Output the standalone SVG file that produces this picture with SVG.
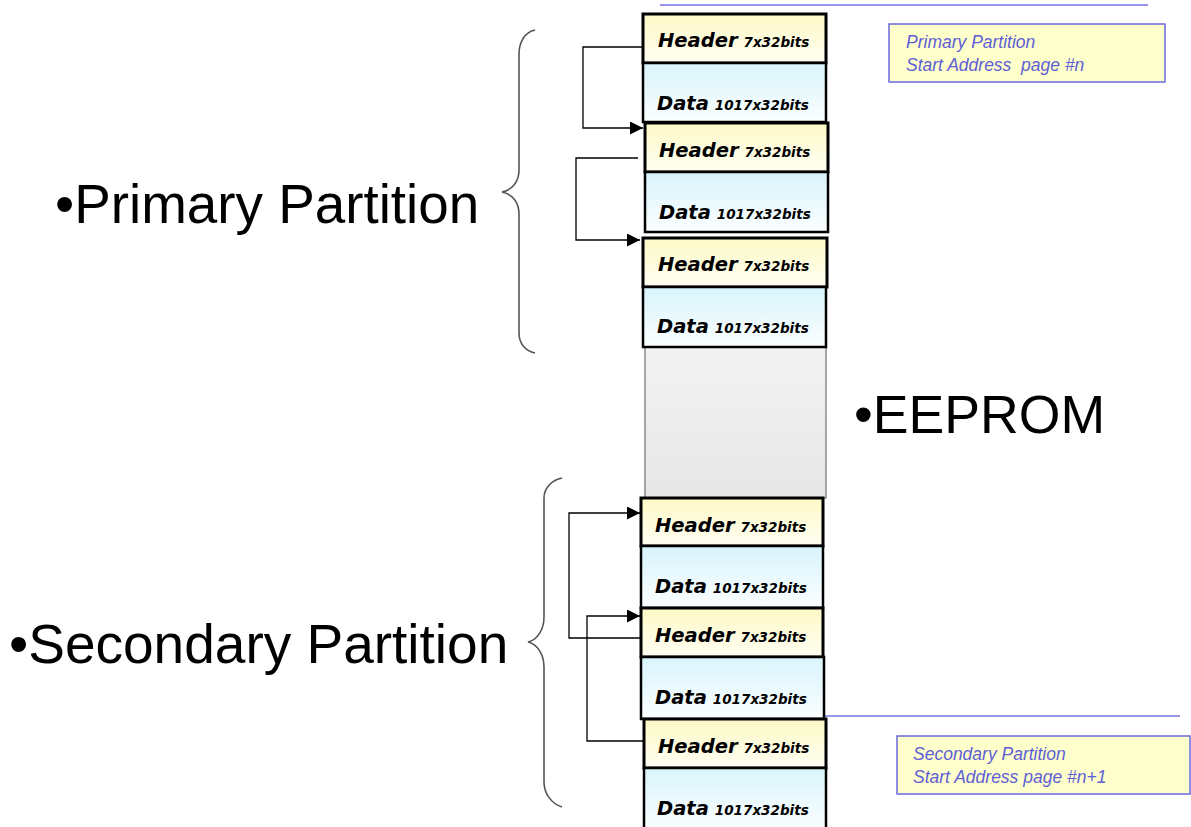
<svg xmlns="http://www.w3.org/2000/svg" width="1191" height="827" viewBox="0 0 1191 827">
  <defs>
    <linearGradient id="hdrFill" x1="0" y1="0" x2="0" y2="1">
      <stop offset="0" stop-color="#fdf9c6"/>
      <stop offset="1" stop-color="#fffef2"/>
    </linearGradient>
    <linearGradient id="dataFill" x1="0" y1="0" x2="0" y2="1">
      <stop offset="0" stop-color="#d8f4fb"/>
      <stop offset="1" stop-color="#fbfeff"/>
    </linearGradient>
    <linearGradient id="freeFill" x1="0" y1="0" x2="0" y2="1">
      <stop offset="0" stop-color="#f2f2f2"/>
      <stop offset="1" stop-color="#e7e7e7"/>
    </linearGradient>
    <marker id="arrow" viewBox="0 0 12 12" refX="12" refY="6" markerWidth="13" markerHeight="13" markerUnits="userSpaceOnUse" orient="auto">
      <path d="M0,0 L12,6 L0,12 Z" fill="#000"/>
    </marker>
  </defs>
  <style>
    .hdr { fill: url(#hdrFill); stroke: #000; stroke-width: 3; }
    .data { fill: url(#dataFill); stroke: #000; stroke-width: 2.5; }
    .free { fill: url(#freeFill); stroke: #8a8a8a; stroke-width: 1.5; }
    .lbl { font-family: "DejaVu Sans", Verdana, sans-serif; font-weight: bold; font-style: italic; fill: #000; }
    .big { font-size: 19.5px; }
    .small { font-size: 13.5px; }
    .title { font-family: "Liberation Sans", Arial, sans-serif; fill: #000; }
    .brace { fill: none; stroke: #555; stroke-width: 1.6; }
    .link { fill: none; stroke: #000; stroke-width: 1.3; }
    .note { fill: #ffffcc; stroke: #6a6ae0; stroke-width: 1.5; }
    .notetxt { font-family: "Liberation Sans", Arial, sans-serif; font-style: italic; font-size: 17.5px; fill: #5e5ed6; }
    .rule { stroke: #7474e4; stroke-width: 1.5; }
  </style>

  <!-- address rules -->
  <line class="rule" x1="660" y1="5" x2="1148" y2="5"/>
  <line class="rule" x1="825" y1="716" x2="1180" y2="716"/>

  <!-- free EEPROM area between partitions -->
  <g id="free-space">
    <rect class="free" x="645" y="347" width="181" height="151"/>
  </g>

  <!-- primary partition pages -->
  <g id="p1-header">
    <rect class="hdr" x="643" y="14" width="183" height="49"/>
    <text class="lbl" x="658" y="47"><tspan class="big">Header</tspan><tspan class="small" dx="6">7x32bits</tspan></text>
  </g>
  <g id="p1-data">
    <rect class="data" x="643" y="63" width="183" height="59"/>
    <text class="lbl" x="657" y="110"><tspan class="big">Data</tspan><tspan class="small" dx="6">1017x32bits</tspan></text>
  </g>
  <g id="p2-header">
    <rect class="hdr" x="645" y="123" width="183" height="49"/>
    <text class="lbl" x="659" y="157"><tspan class="big">Header</tspan><tspan class="small" dx="6">7x32bits</tspan></text>
  </g>
  <g id="p2-data">
    <rect class="data" x="645" y="172" width="183" height="60"/>
    <text class="lbl" x="659" y="219"><tspan class="big">Data</tspan><tspan class="small" dx="6">1017x32bits</tspan></text>
  </g>
  <g id="p3-header">
    <rect class="hdr" x="643" y="238" width="184" height="49"/>
    <text class="lbl" x="658" y="271"><tspan class="big">Header</tspan><tspan class="small" dx="6">7x32bits</tspan></text>
  </g>
  <g id="p3-data">
    <rect class="data" x="643" y="287" width="183" height="60"/>
    <text class="lbl" x="657" y="333"><tspan class="big">Data</tspan><tspan class="small" dx="6">1017x32bits</tspan></text>
  </g>

  <!-- secondary partition pages -->
  <g id="s1-header">
    <rect class="hdr" x="641" y="498" width="182" height="48"/>
    <text class="lbl" x="655" y="532"><tspan class="big">Header</tspan><tspan class="small" dx="6">7x32bits</tspan></text>
  </g>
  <g id="s1-data">
    <rect class="data" x="641" y="546" width="182" height="62"/>
    <text class="lbl" x="655" y="593"><tspan class="big">Data</tspan><tspan class="small" dx="6">1017x32bits</tspan></text>
  </g>
  <g id="s2-header">
    <rect class="hdr" x="641" y="608" width="182" height="49"/>
    <text class="lbl" x="655" y="642"><tspan class="big">Header</tspan><tspan class="small" dx="6">7x32bits</tspan></text>
  </g>
  <g id="s2-data">
    <rect class="data" x="641" y="657" width="183" height="62"/>
    <text class="lbl" x="655" y="704"><tspan class="big">Data</tspan><tspan class="small" dx="6">1017x32bits</tspan></text>
  </g>
  <g id="s3-header">
    <rect class="hdr" x="644" y="719" width="182" height="49"/>
    <text class="lbl" x="658" y="753"><tspan class="big">Header</tspan><tspan class="small" dx="6">7x32bits</tspan></text>
  </g>
  <g id="s3-data">
    <rect class="data" x="644" y="768" width="182" height="62"/>
    <text class="lbl" x="657" y="815"><tspan class="big">Data</tspan><tspan class="small" dx="6">1017x32bits</tspan></text>
  </g>

  <!-- header-to-header links -->
  <g id="links">
    <path class="link" d="M643,47 H583 V128 H643" marker-end="url(#arrow)"/>
    <path class="link" d="M638,158 H576 V240 H640" marker-end="url(#arrow)"/>
    <path class="link" d="M641,638 H569 V513 H640" marker-end="url(#arrow)"/>
    <path class="link" d="M644,741 H587 V616 H640" marker-end="url(#arrow)"/>
  </g>

  <!-- partition braces -->
  <g id="primary-brace">
    <path class="brace" d="M535,30 C525,32 519,42 519,54 V170 C519,182 512,190 502,192 C512,194 519,202 519,214 V333 C519,343 525,351 535,353"/>
  </g>
  <g id="secondary-brace">
    <path class="brace" d="M562,478 C552,480 544,488 544,498 V617 C544,630 537,640 528,642 C537,644 544,654 544,667 V782 C544,794 552,804 562,807"/>
  </g>

  <!-- headings -->
  <g id="primary-label">
    <text class="title" x="55" y="223" font-size="54.8">•Primary Partition</text>
  </g>
  <g id="secondary-label">
    <text class="title" x="9" y="663" font-size="55">•Secondary Partition</text>
  </g>
  <g id="eeprom-label">
    <text class="title" x="854" y="433" font-size="53.6">•EEPROM</text>
  </g>

  <!-- start address notes -->
  <g id="primary-note">
    <rect class="note" x="889" y="24" width="276" height="58"/>
    <text class="notetxt" x="906" y="48">Primary Partition</text>
    <text class="notetxt" x="906" y="71" xml:space="preserve">Start Address  page #n</text>
  </g>
  <g id="secondary-note">
    <rect class="note" x="897" y="736" width="293" height="58"/>
    <text class="notetxt" x="913" y="760">Secondary Partition</text>
    <text class="notetxt" x="913" y="783">Start Address page #n+1</text>
  </g>
</svg>
